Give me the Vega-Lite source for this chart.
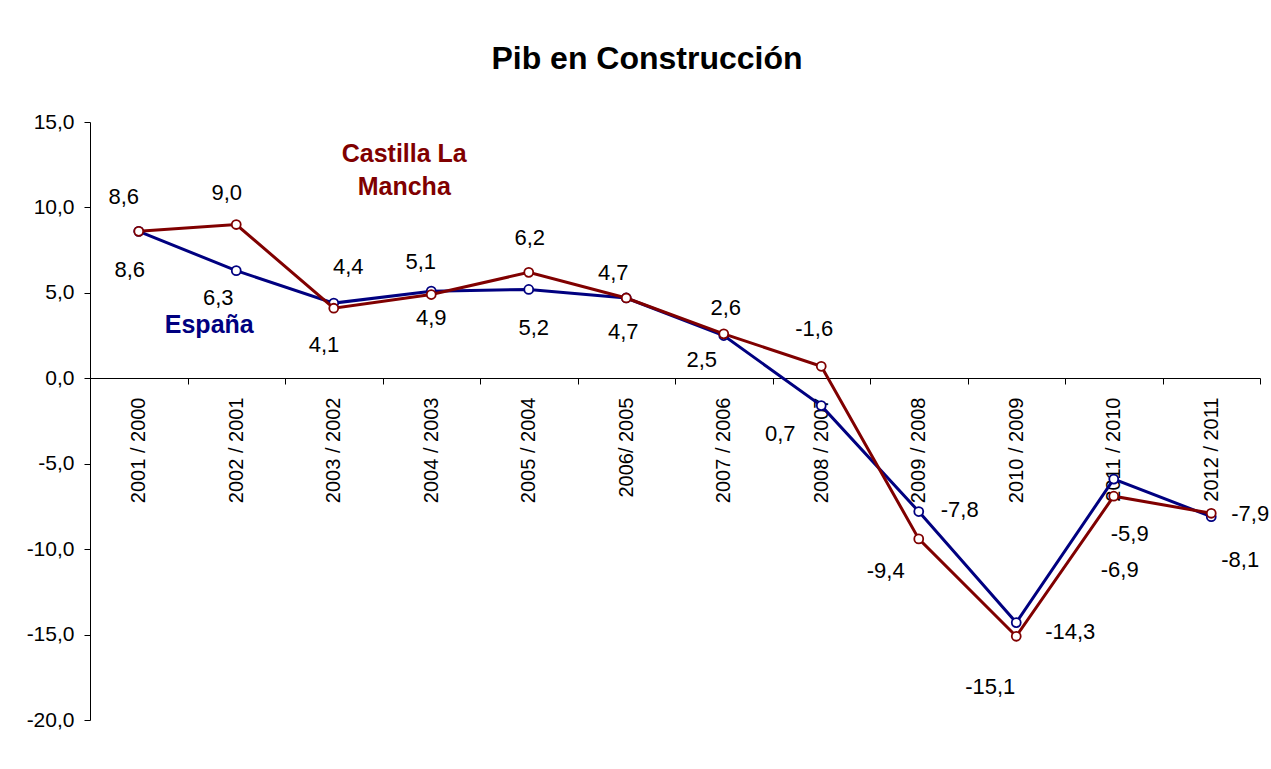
{
  "$schema": "https://vega.github.io/schema/vega-lite/v6.json",
  "width": 1170,
  "height": 598,
  "autosize": {"type": "none"},
  "padding": {"left": 90, "top": 122, "right": 11, "bottom": 49},
  "background": "white",
  "title": {
    "text": "Pib en Construcción",
    "font": "Liberation Sans",
    "fontSize": 32,
    "fontWeight": "bold",
    "color": "black",
    "anchor": "middle",
    "frame": "group",
    "dx": -28,
    "baseline": "alphabetic",
    "offset": 10
  },
  "data": {
    "values": [
      {"periodo": "2001  / 2000", "anio": 2001, "serie": "España", "valor": 8.6},
      {"periodo": "2002 / 2001", "anio": 2002, "serie": "España", "valor": 6.3},
      {"periodo": "2003 / 2002", "anio": 2003, "serie": "España", "valor": 4.4},
      {"periodo": "2004 / 2003", "anio": 2004, "serie": "España", "valor": 5.1},
      {"periodo": "2005 / 2004", "anio": 2005, "serie": "España", "valor": 5.2},
      {"periodo": "2006/ 2005", "anio": 2006, "serie": "España", "valor": 4.7},
      {"periodo": "2007 / 2006", "anio": 2007, "serie": "España", "valor": 2.5},
      {"periodo": "2008 / 2007", "anio": 2008, "serie": "España", "valor": -1.6},
      {"periodo": "2009 / 2008", "anio": 2009, "serie": "España", "valor": -7.8},
      {"periodo": "2010 / 2009", "anio": 2010, "serie": "España", "valor": -14.3},
      {"periodo": "2011  / 2010", "anio": 2011, "serie": "España", "valor": -5.9},
      {"periodo": "2012 / 2011", "anio": 2012, "serie": "España", "valor": -8.1},
      {"periodo": "2001  / 2000", "anio": 2001, "serie": "Castilla La Mancha", "valor": 8.6},
      {"periodo": "2002 / 2001", "anio": 2002, "serie": "Castilla La Mancha", "valor": 9.0},
      {"periodo": "2003 / 2002", "anio": 2003, "serie": "Castilla La Mancha", "valor": 4.1},
      {"periodo": "2004 / 2003", "anio": 2004, "serie": "Castilla La Mancha", "valor": 4.9},
      {"periodo": "2005 / 2004", "anio": 2005, "serie": "Castilla La Mancha", "valor": 6.2},
      {"periodo": "2006/ 2005", "anio": 2006, "serie": "Castilla La Mancha", "valor": 4.7},
      {"periodo": "2007 / 2006", "anio": 2007, "serie": "Castilla La Mancha", "valor": 2.6},
      {"periodo": "2008 / 2007", "anio": 2008, "serie": "Castilla La Mancha", "valor": 0.7},
      {"periodo": "2009 / 2008", "anio": 2009, "serie": "Castilla La Mancha", "valor": -9.4},
      {"periodo": "2010 / 2009", "anio": 2010, "serie": "Castilla La Mancha", "valor": -15.1},
      {"periodo": "2011  / 2010", "anio": 2011, "serie": "Castilla La Mancha", "valor": -6.9},
      {"periodo": "2012 / 2011", "anio": 2012, "serie": "Castilla La Mancha", "valor": -7.9}
    ]
  },
  "encoding": {
    "x": {
      "field": "periodo",
      "type": "ordinal",
      "sort": null,
      "scale": {"type": "band", "paddingInner": 0, "paddingOuter": 0},
      "axis": {
        "title": null,
        "offset": -342,
        "labelAngle": -90,
        "labelFont": "Liberation Sans",
        "labelFontSize": 20,
        "labelColor": "black",
        "labelPadding": 13,
        "tickBand": "extent",
        "tickSize": 6,
        "tickColor": "black",
        "domainColor": "black",
        "grid": false,
        "labelOverlap": false
      }
    },
    "y": {
      "field": "valor",
      "type": "quantitative",
      "scale": {"domain": [-20, 15], "nice": false, "zero": false},
      "axis": {
        "title": null,
        "values": [-20, -15, -10, -5, 0, 5, 10, 15],
        "format": ".1f",
        "labelFont": "Liberation Sans",
        "labelFontSize": 21,
        "labelColor": "black",
        "labelPadding": 10,
        "tickSize": 6,
        "tickColor": "black",
        "domainColor": "black",
        "grid": false
      }
    }
  },
  "layer": [
    {"transform": [{"filter": "datum.serie=='España'"}], "mark": {"type": "line", "color": "#000080", "strokeWidth": 3}},
    {"transform": [{"filter": "datum.serie=='España'"}], "mark": {"type": "point", "shape": "circle", "size": 80, "stroke": "#000080", "strokeWidth": 1.8, "fill": "white", "filled": true, "opacity": 1}},
    {"transform": [{"filter": "datum.serie=='Castilla La Mancha'"}], "mark": {"type": "line", "color": "#800000", "strokeWidth": 3}},
    {"transform": [{"filter": "datum.serie=='Castilla La Mancha'"}], "mark": {"type": "point", "shape": "circle", "size": 80, "stroke": "#800000", "strokeWidth": 1.8, "fill": "white", "filled": true, "opacity": 1}},

    {"transform": [{"filter": "datum.serie=='España' && datum.anio==2001"}], "mark": {"type": "text", "dx": -9, "dy": 38.6}, "encoding": {"text": {"field": "valor", "type": "quantitative", "format": ".1f"}}},
    {"transform": [{"filter": "datum.serie=='España' && datum.anio==2002"}], "mark": {"type": "text", "dx": -18, "dy": 27.5}, "encoding": {"text": {"field": "valor", "type": "quantitative", "format": ".1f"}}},
    {"transform": [{"filter": "datum.serie=='España' && datum.anio==2003"}], "mark": {"type": "text", "dx": 14.5, "dy": -36.4}, "encoding": {"text": {"field": "valor", "type": "quantitative", "format": ".1f"}}},
    {"transform": [{"filter": "datum.serie=='España' && datum.anio==2004"}], "mark": {"type": "text", "dx": -10.5, "dy": -29.2}, "encoding": {"text": {"field": "valor", "type": "quantitative", "format": ".1f"}}},
    {"transform": [{"filter": "datum.serie=='España' && datum.anio==2005"}], "mark": {"type": "text", "dx": 5, "dy": 38.7}, "encoding": {"text": {"field": "valor", "type": "quantitative", "format": ".1f"}}},
    {"transform": [{"filter": "datum.serie=='España' && datum.anio==2006"}], "mark": {"type": "text", "dx": -3, "dy": 33.7}, "encoding": {"text": {"field": "valor", "type": "quantitative", "format": ".1f"}}},
    {"transform": [{"filter": "datum.serie=='España' && datum.anio==2007"}], "mark": {"type": "text", "dx": -22, "dy": 24.8}, "encoding": {"text": {"field": "valor", "type": "quantitative", "format": ".1f"}}},
    {"transform": [{"filter": "datum.serie=='España' && datum.anio==2008"}], "mark": {"type": "text", "dx": -7, "dy": -76.6}, "encoding": {"text": {"field": "valor", "type": "quantitative", "format": ".1f"}}},
    {"transform": [{"filter": "datum.serie=='España' && datum.anio==2009"}], "mark": {"type": "text", "dx": 41, "dy": -1.4}, "encoding": {"text": {"field": "valor", "type": "quantitative", "format": ".1f"}}},
    {"transform": [{"filter": "datum.serie=='España' && datum.anio==2010"}], "mark": {"type": "text", "dx": 54, "dy": 8.9}, "encoding": {"text": {"field": "valor", "type": "quantitative", "format": ".1f"}}},
    {"transform": [{"filter": "datum.serie=='España' && datum.anio==2011"}], "mark": {"type": "text", "dx": 16, "dy": 54.6}, "encoding": {"text": {"field": "valor", "type": "quantitative", "format": ".1f"}}},
    {"transform": [{"filter": "datum.serie=='España' && datum.anio==2012"}], "mark": {"type": "text", "dx": 29, "dy": 43.5}, "encoding": {"text": {"field": "valor", "type": "quantitative", "format": ".1f"}}},

    {"transform": [{"filter": "datum.serie=='Castilla La Mancha' && datum.anio==2001"}], "mark": {"type": "text", "dx": -15, "dy": -34.2}, "encoding": {"text": {"field": "valor", "type": "quantitative", "format": ".1f"}}},
    {"transform": [{"filter": "datum.serie=='Castilla La Mancha' && datum.anio==2002"}], "mark": {"type": "text", "dx": -9.5, "dy": -31.3}, "encoding": {"text": {"field": "valor", "type": "quantitative", "format": ".1f"}}},
    {"transform": [{"filter": "datum.serie=='Castilla La Mancha' && datum.anio==2003"}], "mark": {"type": "text", "dx": -9.75, "dy": 37}, "encoding": {"text": {"field": "valor", "type": "quantitative", "format": ".1f"}}},
    {"transform": [{"filter": "datum.serie=='Castilla La Mancha' && datum.anio==2004"}], "mark": {"type": "text", "dx": 0, "dy": 23.2}, "encoding": {"text": {"field": "valor", "type": "quantitative", "format": ".1f"}}},
    {"transform": [{"filter": "datum.serie=='Castilla La Mancha' && datum.anio==2005"}], "mark": {"type": "text", "dx": 1, "dy": -34}, "encoding": {"text": {"field": "valor", "type": "quantitative", "format": ".1f"}}},
    {"transform": [{"filter": "datum.serie=='Castilla La Mancha' && datum.anio==2006"}], "mark": {"type": "text", "dx": -13, "dy": -25.1}, "encoding": {"text": {"field": "valor", "type": "quantitative", "format": ".1f"}}},
    {"transform": [{"filter": "datum.serie=='Castilla La Mancha' && datum.anio==2007"}], "mark": {"type": "text", "dx": 2, "dy": -25.9}, "encoding": {"text": {"field": "valor", "type": "quantitative", "format": ".1f"}}},
    {"transform": [{"filter": "datum.serie=='Castilla La Mancha' && datum.anio==2008"}], "mark": {"type": "text", "dx": -41, "dy": 67.4}, "encoding": {"text": {"field": "valor", "type": "quantitative", "format": ".1f"}}},
    {"transform": [{"filter": "datum.serie=='Castilla La Mancha' && datum.anio==2009"}], "mark": {"type": "text", "dx": -33, "dy": 32.6}, "encoding": {"text": {"field": "valor", "type": "quantitative", "format": ".1f"}}},
    {"transform": [{"filter": "datum.serie=='Castilla La Mancha' && datum.anio==2010"}], "mark": {"type": "text", "dx": -26, "dy": 50.4}, "encoding": {"text": {"field": "valor", "type": "quantitative", "format": ".1f"}}},
    {"transform": [{"filter": "datum.serie=='Castilla La Mancha' && datum.anio==2011"}], "mark": {"type": "text", "dx": 6, "dy": 74}, "encoding": {"text": {"field": "valor", "type": "quantitative", "format": ".1f"}}},
    {"transform": [{"filter": "datum.serie=='Castilla La Mancha' && datum.anio==2012"}], "mark": {"type": "text", "dx": 39, "dy": 0.9}, "encoding": {"text": {"field": "valor", "type": "quantitative", "format": ".1f"}}},

    {"transform": [{"filter": "datum.serie=='Castilla La Mancha' && datum.anio==2004"}], "mark": {"type": "text", "dx": -27, "dy": -141, "fontSize": 25, "fontWeight": "bold", "color": "#800000"}, "encoding": {"text": {"value": "Castilla La"}}},
    {"transform": [{"filter": "datum.serie=='Castilla La Mancha' && datum.anio==2004"}], "mark": {"type": "text", "dx": -27, "dy": -108, "fontSize": 25, "fontWeight": "bold", "color": "#800000"}, "encoding": {"text": {"value": "Mancha"}}},
    {"transform": [{"filter": "datum.serie=='España' && datum.anio==2002"}], "mark": {"type": "text", "dx": -27, "dy": 54, "fontSize": 25, "fontWeight": "bold", "color": "#000080"}, "encoding": {"text": {"value": "España"}}}
  ],
  "config": {
    "view": {"stroke": null},
    "locale": {"number": {"decimal": ",", "thousands": ".", "grouping": [3], "currency": ["", " €"], "minus": "-"}},
    "text": {"font": "Liberation Sans", "fontSize": 22, "color": "black", "align": "center", "baseline": "middle"},
    "axis": {"domainWidth": 1, "tickWidth": 1}
  }
}
